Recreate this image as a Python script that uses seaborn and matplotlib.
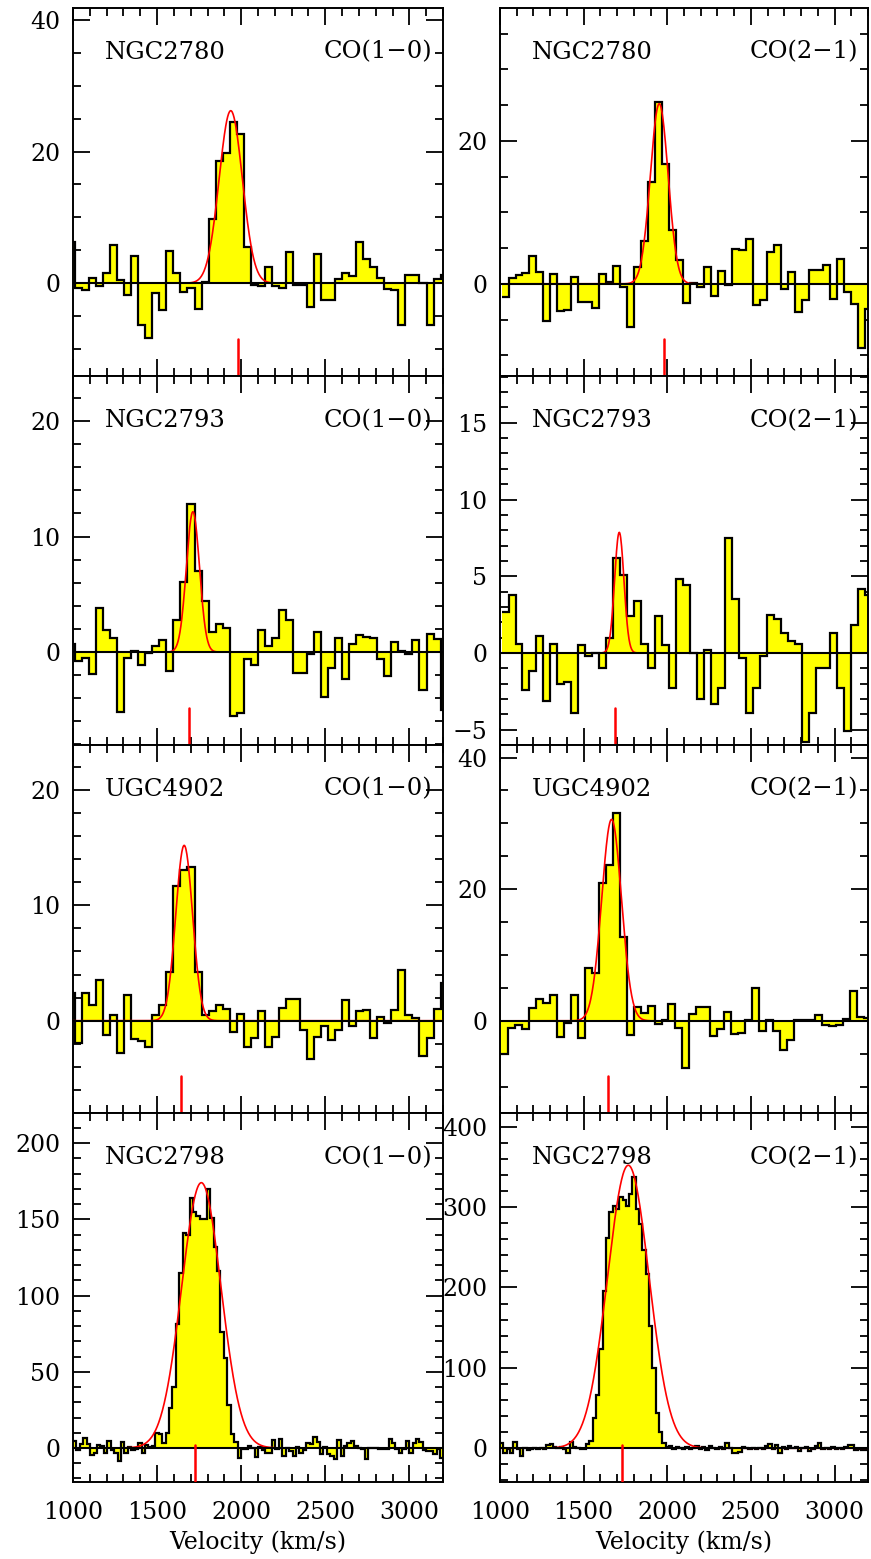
import numpy as np
import matplotlib
matplotlib.use("Agg")
import matplotlib.pyplot as plt
import seaborn as sns
from matplotlib.ticker import MultipleLocator

sns.set_style("ticks")
plt.rcParams['font.family'] = ['DejaVu Serif']
plt.rcParams['font.size'] = 17
plt.rcParams['axes.unicode_minus'] = True
for key in ['text.color', 'axes.labelcolor', 'xtick.color', 'ytick.color', 'axes.edgecolor']:
    plt.rcParams[key] = 'black'

galaxies = ['NGC2780', 'NGC2793', 'UGC4902', 'NGC2798']
transitions = ['CO(1\u22120)', 'CO(2\u22121)']

# spectra (mK), first channel centre and channel width in km/s
ngc2780_co10 = [6.3, -0.8, -1.1, 0.8, -0.4, 1.5, 5.8, 0.5, -1.8, 4.2, -6.4, -8.3, -1.5, -4.1, 4.9, 1.6,
                -1.3, -0.7, -3.9, 0.2, 9.8, 18.6, 19.8, 24.5, 22.6, 5.5, -0.3, -0.4, 2.5, -0.4, -0.8, 4.8,
                -0.3, -0.3, -3.6, 4.5, -2.6, -2.6, 0.7, 1.5, 1.1, 6.2, 3.7, 2.4, 0.8, -0.9, -1.0, -6.3,
                1.2, 1.3, 0.0, -6.4, 0.7, 1.3]
ngc2780_co21 = [-1.8, 0.8, 1.3, 1.5, 3.9, 1.6, -5.2, 1.4, -3.8, -3.6, 1.0, -2.5, -2.6, -3.4, 1.4, 0.2,
                2.5, -0.4, -6.0, 2.3, 6.0, 14.2, 25.5, 16.8, 7.6, 3.4, -2.7, 0.1, -0.5, 2.4, -1.7, 1.8,
                -0.2, 4.9, 4.8, 6.3, -3.0, -2.3, 4.4, 5.4, -0.7, 1.6, -4.0, -2.3, 1.9, 2.0, 2.7, -2.1,
                3.5, -1.1, -2.8, -9.0, -3.5]
ngc2793_co10 = [0.7, -0.8, -0.5, -1.9, 3.8, 1.9, 1.2, -5.2, -0.5, 0.1, -1.1, -0.1, 0.5, 1.0, -1.6, 2.8,
                6.1, 12.8, 7.0, 4.4, 1.7, 2.4, 2.1, -5.5, -5.3, -0.6, -1.1, 1.9, 0.5, 1.2, 3.6, 2.8,
                -1.8, -1.8, -0.2, 1.7, -3.9, -1.4, 1.2, -2.3, 0.7, 1.5, 1.3, 1.2, -0.6, -2.1, 0.9, 0.1,
                -0.2, 1.0, -3.3, 1.6, 1.1, -5.0]
ngc2793_co21 = [2.7, 3.8, 0.6, -2.4, -1.2, 1.1, -3.1, 0.6, -2.0, -1.9, -3.9, 0.5, -0.2, 0.0, -1.0, 1.0,
                6.2, 5.1, 2.4, 3.4, 0.6, -1.0, 2.4, 0.5, -2.3, 4.8, 4.4, 0.0, -3.0, 0.2, -3.3, -2.3,
                7.5, 3.5, -0.3, -3.9, -2.3, -0.2, 2.5, 2.2, 1.3, 0.8, 0.6, -5.8, -3.9, -1.0, -1.0, 1.3,
                -2.3, -5.1, 1.8, 4.2, 3.8]
ugc4902_co10 = [2.4, -1.9, 2.4, 1.4, 3.5, -1.2, 0.5, -2.8, 2.2, -1.6, -1.8, -2.3, 0.5, 1.4, 4.2, 11.7,
                13.1, 13.3, 4.2, 0.5, 0.8, 1.4, 1.0, -1.0, 0.6, -2.3, -1.5, 0.8, -2.3, -1.4, 1.1, 1.9,
                1.9, -0.8, -3.3, -1.4, -0.5, -1.7, -0.8, 1.8, -0.5, 0.8, 0.9, -1.5, 0.3, -0.2, 0.9, 4.4,
                0.5, 0.2, -3.1, -1.5, 1.0, 3.3]
ugc4902_co21 = [-5.0, -1.1, -0.7, -1.3, 2.0, 3.3, 2.7, 3.9, -2.5, -0.3, 4.0, -2.6, 8.1, 7.2, 21.0, 23.6,
                31.6, 12.8, -2.2, 2.1, 1.2, 2.2, -0.5, 0.2, 2.6, -1.1, -7.1, 1.1, 2.1, 2.1, -2.3, -1.2,
                1.3, -2.0, -1.8, 0.2, 5.0, -1.6, 0.1, -1.5, -4.4, -2.9, 0.1, 0.2, 0.2, 0.9, -0.7, -0.8,
                -0.7, 0.3, 4.5, 0.6, 0.4]
ngc2798_co10 = [4.6, -1.3, 2.8, 6.8, 2.4, -4.6, -3.0, 1.7, 1.3, -3.0, 4.6, -1.3, -3.5, -8.5, 3.9, -3.0,
                0.9, -1.3, -0.9, 3.1, -3.0, 1.7, 0.9, 1.3,
                10, 9, 3.5, 9.6, 26, 40, 81, 115, 141, 140, 164, 155, 152, 150, 150, 170,
                151, 132, 116, 76, 59, 28, 9, 4,
                -6.8, -0.9, -0.9, 1.3, 0.2, -5.7, 0.9, -1.3, -3.0, -3.0, 5.0, -0.9, 6.1, -5.2, 0.2, -2.0,
                -5.2, 0.9, -3.0, -1.3, 3.5, 2.4, 7.2, 3.9, -3.7, 0.9, -3.7, -5.2, -7.0, 5.0, -5.2, 1.3,
                3.5, 4.6, 1.3, 0.2, -0.9, -7.0, 0.2, -0.2, 0.2, -0.4, -0.9, -0.4, 5.7, 3.5, -0.9, -3.0,
                -0.4, 4.6, -3.0, 3.5, 6.1, 3.9, -1.3, -2.0, -2.0, -3.7, -0.9, -6.3]
ngc2798_co21 = [7.1, -5.4, -1.2, -5.4, 7.9, -1.2, -9.6, 0.8, -2.1, -0.4, 0.8, -1.2, 0.8, -1.2, 3.7, 5.0,
                2.1, 0.8, 1.7, -1.2, -6.2, 8.3, 2.1, 0.8, -1.2, -0.4,
                5, 9, 38, 66, 124, 195, 262, 294, 301, 298, 312, 309, 301, 316, 337, 298,
                279, 246, 217, 152, 100, 44, 20, 7, 1,
                2.9, -1.2, 2.1, 0.8, -1.2, 2.1, -0.4, 0.8, 2.9, -0.4, 2.1, -2.1, 2.9, 0.8, -0.4, 2.1,
                -1.2, 7.1, 0.8, -5.4, -5.4, -4.6, 2.1, 0.8, -0.4, 0.8, -1.2, 0.8, -0.4, 2.9, 5.0, -1.2,
                3.7, -5.4, 2.1, -1.2, 2.9, 0.8, 2.1, -3.3, 0.8, 2.1, -3.3, -0.4, 2.9, 6.2, -1.2, 0.8,
                -0.4, 2.1, -1.2, 0.8, -0.4, 2.1, 3.7, 3.7, -2.1, -1.2, -2.1, -2.1]

spectra = [ngc2780_co10, ngc2780_co21, ngc2793_co10, ngc2793_co21,
           ugc4902_co10, ugc4902_co21, ngc2798_co10, ngc2798_co21]
first_chan = [991, 1030, 991, 1030, 991, 1025, 1010, 1010]
chan_width = [41.8, 41.8, 41.8, 41.8, 41.8, 41.8, 20.4, 19.8]

# gaussian fits: peak, centre, sigma
fit_peak = [26.2, 25.2, 12.15, 7.86, 15.2, 30.6, 174, 352]
fit_vel = [1938, 1952, 1713, 1713, 1661, 1667, 1763, 1767]
fit_sigma = [69, 53, 39, 28, 50, 59, 117, 124]

# optical systemic velocity markers
v_sys = [1982, 1980, 1687, 1689, 1645, 1643, 1727, 1731]

ylims = [(-14.1, 41.8), (-12.9, 38.6), (-8.05, 23.9), (-6.0, 18.05),
         (-8.0, 23.9), (-14.0, 41.9), (-22.3, 219.7), (-42, 417)]
y_major = [20, 20, 10, 5, 10, 20, 50, 100]
y_minor = [5, 5, 2, 1, 2, 5, 10, 20]

fig = plt.figure(figsize=(8.71, 15.59), dpi=100)
W, H = 871, 1559
cols = [(73, 443), (500, 868)]
rows = [(8, 376), (376, 745), (745, 1113), (1113, 1482)]

vgrid = np.linspace(1000, 3200, 800)

for k in range(8):
    r, c = divmod(k, 2)
    x0, x1 = cols[c]
    y0, y1 = rows[r]
    ax = fig.add_axes([x0 / W, 1 - y1 / H, (x1 - x0) / W, (y1 - y0) / H])

    vals = np.array(spectra[k])
    edges = first_chan[k] - chan_width[k] / 2 + chan_width[k] * np.arange(len(vals) + 1)
    ax.stairs(vals, edges, baseline=0, fill=True, color='#ffff00', lw=0, zorder=1)
    ax.stairs(vals, edges, baseline=None, color='black', lw=1.6, zorder=2)

    fit = fit_peak[k] * np.exp(-0.5 * ((vgrid - fit_vel[k]) / fit_sigma[k]) ** 2)
    sns.lineplot(x=vgrid, y=fit, ax=ax, color='red', lw=1.2, zorder=3)
    ax.axhline(0, color='black', lw=1.5, zorder=4)
    ax.axvline(v_sys[k], ymin=0, ymax=0.1, color='red', lw=1.8, zorder=5)

    ax.set_xlim(1000, 3200)
    ax.set_ylim(*ylims[k])
    ax.xaxis.set_major_locator(MultipleLocator(500))
    ax.xaxis.set_minor_locator(MultipleLocator(100))
    ax.yaxis.set_major_locator(MultipleLocator(y_major[k]))
    ax.yaxis.set_minor_locator(MultipleLocator(y_minor[k]))
    ax.tick_params(which='both', direction='in', top=True, right=True, width=1.3, color='black')
    ax.tick_params(which='major', length=12.5)
    ax.tick_params(which='minor', length=6)
    ax.tick_params(axis='y', which='major', pad=9, labelsize=17)
    ax.tick_params(axis='x', which='major', pad=14, labelsize=17)
    for s in ax.spines.values():
        s.set_linewidth(1.4)
        s.set_color('black')

    if r < 3:
        ax.set_xticklabels([])
    else:
        ax.set_xlabel('Velocity (km/s)', fontsize=17, labelpad=4)

    ax.text(0.086, 0.88, galaxies[r], transform=ax.transAxes, ha='left', va='center', fontsize=17.5)
    ax.text(0.972, 0.88, transitions[c], transform=ax.transAxes, ha='right', va='center', fontsize=17.5)

fig.savefig('out.png', dpi=100)
